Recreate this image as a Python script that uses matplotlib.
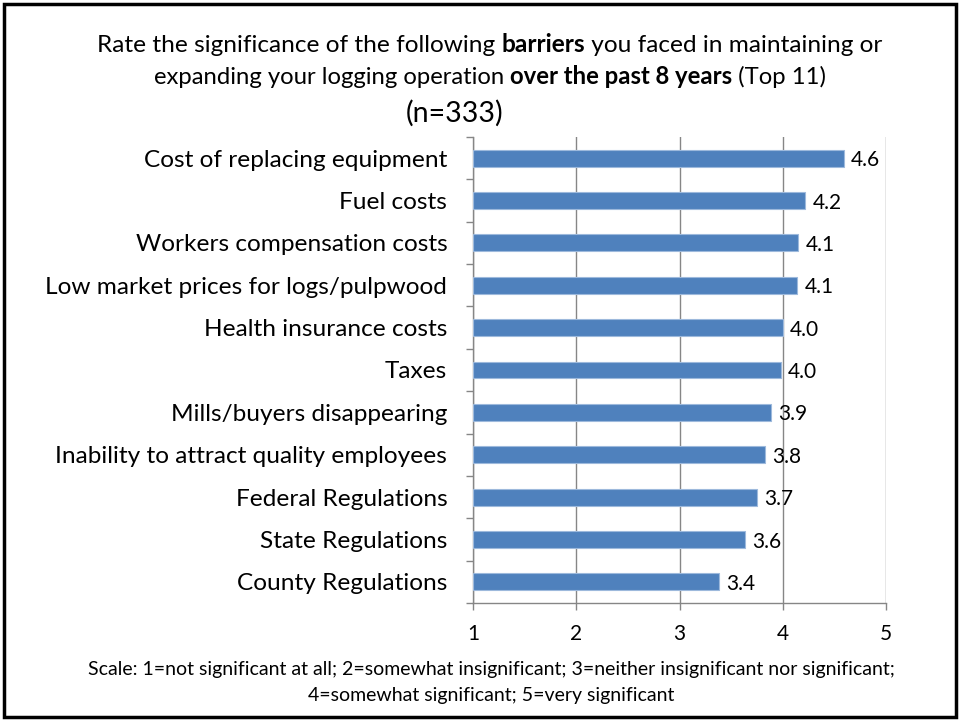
import matplotlib
matplotlib.use("Agg")
import matplotlib.pyplot as plt
from matplotlib.patches import Rectangle

categories = [
    "Cost of replacing equipment",
    "Fuel costs",
    "Workers compensation costs",
    "Low market prices for logs/pulpwood",
    "Health insurance costs",
    "Taxes",
    "Mills/buyers disappearing",
    "Inability to attract quality employees",
    "Federal Regulations",
    "State Regulations",
    "County Regulations",
]
values = [4.59, 4.22, 4.15, 4.14, 4.00, 3.98, 3.89, 3.83, 3.75, 3.63, 3.38]
value_labels = ["4.6", "4.2", "4.1", "4.1", "4.0", "4.0", "3.9", "3.8", "3.7", "3.6", "3.4"]
x_ticks = [1, 2, 3, 4, 5]

FONT = ["Lato", "DejaVu Sans"]
plt.rcParams['font.family'] = FONT

fig = plt.figure(figsize=(9.6, 7.21), dpi=100)
ax = fig.add_axes([473/960, 118/721, (886-473)/960, (603-137)/721])

n = len(categories)
ypos = list(range(n))[::-1]
ax.barh(ypos, [v - 1 for v in values], left=1, height=0.4, color="#4F81BD",
        edgecolor="#9DB9DC", linewidth=0.8, zorder=3)
for y, v, lab in zip(ypos, values, value_labels):
    ax.text(v + 0.07, y - 0.05, lab, fontsize=15, ha="left", va="center", zorder=4)

ax.set_xlim(1, 5)
ax.set_ylim(-0.5, n - 0.5)
ax.set_xticks(x_ticks)
ax.set_xticklabels([str(t) for t in x_ticks], fontsize=15)
ax.set_yticks(ypos)
ax.set_yticklabels(categories, fontsize=17.6)
ax.set_yticks([i - 0.5 for i in range(n + 1)], minor=True)
ax.tick_params(axis="y", which="major", length=0, pad=18.5)
ax.tick_params(axis="y", which="minor", length=5, color="#868686", width=1)
ax.tick_params(axis="x", which="major", length=5, color="#868686", width=1, pad=10)
ax.xaxis.grid(True, color="#868686", linewidth=1, zorder=0)
ax.set_axisbelow(True)
for s in ["top", "right"]:
    ax.spines[s].set_visible(False)
for s in ["left", "bottom"]:
    ax.spines[s].set_color("#868686")
    ax.spines[s].set_linewidth(1)

renderer = fig.canvas.get_renderer()

def rich_line(y, parts, size, cx=490/960):
    texts = []
    total = 0
    for s, bold in parts:
        t = fig.text(0, y, s, fontsize=size, fontweight="bold" if bold else "normal",
                     ha="left", va="center")
        w = t.get_window_extent(renderer).width
        texts.append((t, w))
        total += w
    x = cx * 960 - total / 2
    for t, w in texts:
        t.set_x(x / 960)
        x += w

rich_line(1 - 45/721, [("Rate the significance of the following ", False), ("barriers", True),
                       (" you faced in maintaining or", False)], 17.6)
rich_line(1 - 77/721, [("expanding your logging operation ", False), ("over the past 8 years", True),
                       (" (Top 11)", False)], 17.2)
fig.text(455/960, 1 - 113/721, "(n=333)", fontsize=20.5, ha="center", va="center")
fig.text(491/960, 1 - 670/721,
         "Scale: 1=not significant at all; 2=somewhat insignificant; 3=neither insignificant nor significant;",
         fontsize=14, ha="center", va="center")
fig.text(491/960, 1 - 695/721, "4=somewhat significant; 5=very significant",
         fontsize=14, ha="center", va="center")

fig.patches.append(Rectangle((4/960, 4/721), 952/960, 713/721, transform=fig.transFigure,
                             fill=False, edgecolor="black", linewidth=2.5))

fig.savefig("out.png", dpi=100)
